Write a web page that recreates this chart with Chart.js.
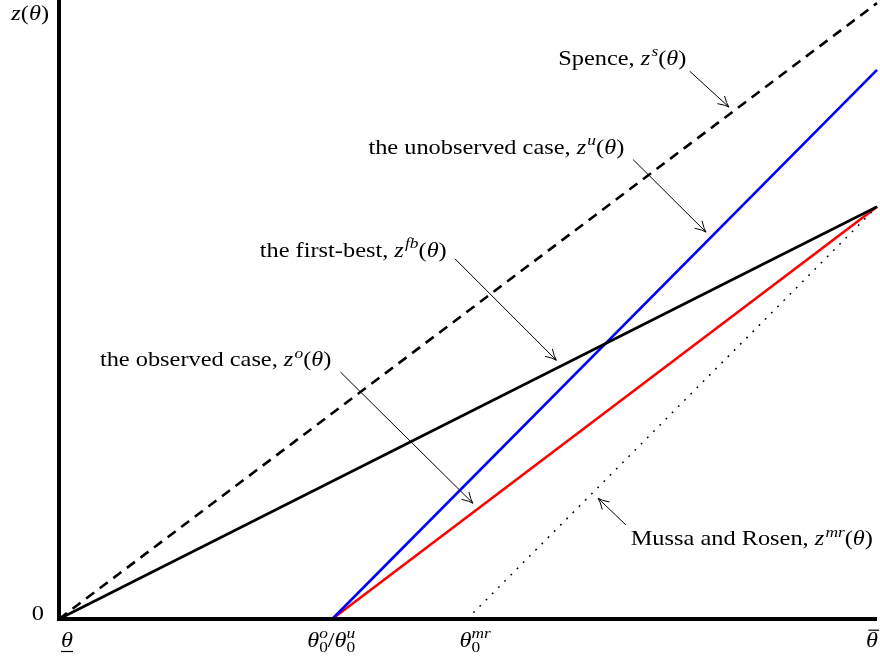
<!DOCTYPE html>
<html>
<head>
<meta charset="utf-8">
<script src="https://cdn.jsdelivr.net/npm/chart.js@4.4.1/dist/chart.umd.min.js"></script>
<style>
    html, body { margin: 0; padding: 0; background: #fff; }
    #wrap { width: 880px; height: 657px; }
</style>
</head>
<body>
<div id="wrap"><canvas id="schedules"></canvas></div>
<script>
// theta runs from theta_ (0) to theta-bar (1), z is scaled so the top of the axis is 1
const zSpence     = [{ x: 0, y: 0 }, { x: 1, y: 0.995 }];
const zUnobserved = [{ x: 0.334, y: 0 }, { x: 1, y: 0.887 }];
const zObserved   = [{ x: 0.334, y: 0 }, { x: 1, y: 0.666 }];
const zFirstBest  = [{ x: 0, y: 0 }, { x: 1, y: 0.666 }];
const zMussaRosen = [{ x: 0.499, y: 0 }, { x: 1, y: 0.666 }];

// x tick positions and their labels (rich text segments)
const xTickValues = [0, 0.334, 0.499, 1];
const xTickLabels = [
    [['under', 'θ']],
    [['i', 'θ'], ['sub', '0'], ['supb', 'o'], ['r', '/'], ['i', 'θ'], ['sub', '0'], ['supb', 'u']],
    [['i', 'θ'], ['sub', '0'], ['supb', 'mr']],
    [['bar', 'θ']]
];

// callouts: label, text anchor, arrow tail and tip (data units)
const calloutLabels = [
    [['r', 'Spence, '], ['i', 'z'], ['sup', 's'], ['r', '('], ['i', 'θ'], ['r', ')']],
    [['r', 'the unobserved case, '], ['i', 'z'], ['sup', 'u'], ['r', '('], ['i', 'θ'], ['r', ')']],
    [['r', 'the first-best, '], ['i', 'z'], ['sup', 'fb'], ['r', '('], ['i', 'θ'], ['r', ')']],
    [['r', 'the observed case, '], ['i', 'z'], ['sup', 'o'], ['r', '('], ['i', 'θ'], ['r', ')']],
    [['r', 'Mussa and Rosen, '], ['i', 'z'], ['sup', 'mr'], ['r', '('], ['i', 'θ'], ['r', ')']]
];
const calloutText = [[0.767, 0.895], [0.691, 0.752], [0.474, 0.585], [0.333, 0.408], [0.995, 0.119]];
const calloutTail = [[0.771, 0.885], [0.702, 0.742], [0.484, 0.582], [0.344, 0.399], [0.693, 0.152]];
const calloutTip  = [[0.819, 0.827], [0.791, 0.625], [0.608, 0.418], [0.506, 0.187], [0.659, 0.195]];

const SERIF = '"Liberation Serif", "DejaVu Serif", serif';
const FS = 21;
const SX = 1.16;   // widen glyphs a little, closer to the wide TeX face

function segFont(kind) {
    if (kind === 'r') return `${FS}px ${SERIF}`;
    if (kind === 'sub') return `${Math.round(FS * 0.7)}px ${SERIF}`;
    if (kind === 'sup' || kind === 'supb') return `italic ${Math.round(FS * 0.7)}px ${SERIF}`;
    return `italic ${FS}px ${SERIF}`;
}

function layoutRich(ctx, segs) {
    // returns pieces with local x offsets (unscaled) and the total width
    let x = 0, subX = 0;
    const out = [];
    segs.forEach(([k, t]) => {
        ctx.font = segFont(k);
        const sw = ctx.measureText(t).width;
        if (k === 'supb') {
            out.push({ k, t, x: subX, sw });
            x = Math.max(x, subX + sw);
            return;
        }
        if (k === 'sub') subX = x;
        if (k === 'sup') x += 1;
        out.push({ k, t, x, sw });
        x += sw;
    });
    return { out, w: x };
}

function drawRich(ctx, segs, x, y, align) {
    const { out, w } = layoutRich(ctx, segs);
    const W = w * SX;
    if (align === 'right') x -= W;
    if (align === 'center') x -= W / 2;
    ctx.save();
    ctx.translate(x, y);
    ctx.scale(SX, 1);
    ctx.fillStyle = '#000';
    ctx.strokeStyle = '#000';
    ctx.textAlign = 'left';
    ctx.textBaseline = 'alphabetic';
    out.forEach(p => {
        ctx.font = segFont(p.k);
        let dy = 0;
        if (p.k === 'sub') dy = FS * 0.25;
        if (p.k === 'sup' || p.k === 'supb') dy = -FS * 0.42;
        ctx.fillText(p.t, p.x, dy);
        if (p.k === 'under' || p.k === 'bar') {
            ctx.lineWidth = 1.2;
            ctx.beginPath();
            const ly = p.k === 'under' ? 4.5 : -FS * 0.8;
            ctx.moveTo(p.x + (p.k === 'bar' ? 2 : 0), ly);
            ctx.lineTo(p.x + p.sw + (p.k === 'bar' ? 1 : 0), ly);
            ctx.stroke();
        }
    });
    ctx.restore();
}

function drawArrow(ctx, x1, y1, x2, y2) {
    const a = Math.atan2(y2 - y1, x2 - x1);
    const len = 12, spread = 0.45;
    ctx.strokeStyle = '#000';
    ctx.lineWidth = 1;
    ctx.beginPath();
    ctx.moveTo(x1, y1);
    ctx.lineTo(x2, y2);
    ctx.moveTo(x2 - len * Math.cos(a - spread), y2 - len * Math.sin(a - spread));
    ctx.quadraticCurveTo(x2 - 4 * Math.cos(a - 0.2), y2 - 4 * Math.sin(a - 0.2), x2, y2);
    ctx.quadraticCurveTo(x2 - 4 * Math.cos(a + 0.2), y2 - 4 * Math.sin(a + 0.2),
                         x2 - len * Math.cos(a + spread), y2 - len * Math.sin(a + spread));
    ctx.stroke();
}

const decorations = {
    id: 'decorations',
    afterDatasetsDraw(chart) {
        const ctx = chart.ctx;
        const xs = chart.scales.x, ys = chart.scales.y;
        const px = v => xs.getPixelForValue(v), py = v => ys.getPixelForValue(v);
        ctx.save();

        // axes
        ctx.strokeStyle = '#000';
        ctx.lineWidth = 4;
        ctx.lineCap = 'butt';
        ctx.beginPath();
        ctx.moveTo(px(0), 0);
        ctx.lineTo(px(0), py(0) + 2);
        ctx.moveTo(px(0) - 2, py(0));
        ctx.lineTo(px(1), py(0));
        ctx.stroke();

        // axis labels
        drawRich(ctx, [['i', 'z'], ['r', '('], ['i', 'θ'], ['r', ')']], 49, 20, 'right');
        drawRich(ctx, [['r', '0']], 44, 620, 'right');
        const tickDx = [8, -1, 8, -5];
        xTickValues.forEach((v, i) => {
            drawRich(ctx, xTickLabels[i], px(v) + tickDx[i], 647, 'center');
        });

        // callouts
        calloutLabels.forEach((segs, i) => {
            drawRich(ctx, segs, px(calloutText[i][0]), py(calloutText[i][1]), 'right');
            drawArrow(ctx, px(calloutTail[i][0]), py(calloutTail[i][1]),
                           px(calloutTip[i][0]), py(calloutTip[i][1]));
        });
        ctx.restore();
    }
};

new Chart(document.getElementById('schedules'), {
    type: 'scatter',
    data: {
        datasets: [
            { data: zMussaRosen, borderColor: '#000', borderWidth: 1.5, borderDash: [1.8, 7] },
            { data: zSpence, borderColor: '#000', borderWidth: 2.6, borderDash: [10, 7] },
            { data: zFirstBest, borderColor: '#000', borderWidth: 2.6 },
            { data: zUnobserved, borderColor: '#0000ff', borderWidth: 2.6 },
            { data: zObserved, borderColor: '#ff0000', borderWidth: 2.6 }
        ].map(d => Object.assign({ showLine: true, pointRadius: 0, clip: false, fill: false }, d))
    },
    options: {
        responsive: true,
        maintainAspectRatio: false,
        animation: false,
        layout: { padding: { left: 59, right: 3, top: 0, bottom: 38 } },
        scales: {
            x: { type: 'linear', min: 0, max: 1, display: false },
            y: { type: 'linear', min: 0, max: 1, display: false }
        },
        plugins: { legend: { display: false }, tooltip: { enabled: false } }
    },
    plugins: [decorations]
});
</script>
</body>
</html>
